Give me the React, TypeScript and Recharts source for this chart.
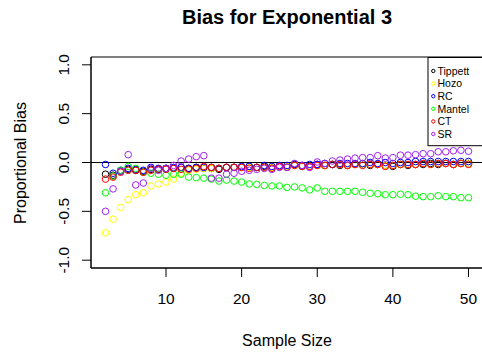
import { ScatterChart, Scatter, XAxis, YAxis, ReferenceLine, ReferenceArea } from 'recharts'

// sample sizes on the x axis
const sizes = [
  2, 3, 4, 5, 6, 7, 8, 9, 10, 11, 12, 13, 14, 15, 16, 17, 18, 19, 20, 21, 22, 23, 24, 25, 26,
  27, 28, 29, 30, 31, 32, 33, 34, 35, 36, 37, 38, 39, 40, 41, 42, 43, 44, 45, 46, 47, 48, 49, 50,
]

const tippett = [
  -0.12, -0.13, -0.09, -0.07, -0.08, -0.09, -0.07, -0.07, -0.06, -0.06, -0.05, -0.06, -0.05, -0.06,
  -0.06, -0.07, -0.05, -0.05, -0.05, -0.04, -0.05, -0.04, -0.05, -0.04, -0.04, -0.02, -0.04, -0.04,
  -0.02, -0.03, -0.02, -0.03, -0.03, -0.02, -0.02, -0.03, -0.02, -0.03, -0.04, -0.02, -0.03, -0.02,
  -0.02, -0.01, -0.02, -0.01, -0.02, -0.01, -0.01,
]
const hozo = [
  -0.72, -0.58, -0.46, -0.38, -0.33, -0.31, -0.24, -0.22, -0.2, -0.17, -0.11, -0.08, -0.07, -0.06,
  -0.06, -0.06, -0.05, -0.05, -0.05, -0.05, -0.05, -0.05, -0.05, -0.04, -0.04, -0.03, -0.04, -0.04,
  -0.03, -0.03, -0.02, -0.02, -0.03, -0.02, -0.02, -0.02, -0.02, -0.03, -0.03, -0.02, -0.02, -0.02,
  -0.01, -0.02, -0.01, -0.01, -0.02, -0.01, -0.01,
]
const rc = [
  -0.02, -0.11, -0.08, -0.06, -0.07, -0.08, -0.05, -0.06, -0.06, -0.05, -0.05, -0.06, -0.05, -0.05,
  -0.05, -0.06, -0.05, -0.05, -0.04, -0.04, -0.05, -0.03, -0.04, -0.03, -0.03, -0.02, -0.03, -0.02,
  -0.02, -0.01, -0.02, -0.01, -0.01, -0.01, -0.01, 0.0, -0.01, 0.0, -0.01, 0.0, 0.0, 0.01, 0.01,
  0.01, 0.01, 0.01, 0.01, 0.01, 0.01,
]
const mantel = [
  -0.31, -0.14, -0.08, -0.04, -0.06, -0.1, -0.11, -0.12, -0.13, -0.12, -0.12, -0.15, -0.155, -0.16,
  -0.17, -0.19, -0.18, -0.19, -0.2, -0.22, -0.225, -0.235, -0.24, -0.24, -0.255, -0.25, -0.26, -0.28,
  -0.26, -0.295, -0.295, -0.295, -0.295, -0.295, -0.305, -0.315, -0.32, -0.33, -0.33, -0.325, -0.33,
  -0.345, -0.35, -0.35, -0.34, -0.35, -0.35, -0.36, -0.36,
]
const ct = [
  -0.17, -0.15, -0.1, -0.08, -0.08, -0.1, -0.08, -0.07, -0.07, -0.06, -0.07, -0.07, -0.06, -0.04,
  -0.05, -0.06, -0.05, -0.05, -0.05, -0.06, -0.05, -0.05, -0.06, -0.04, -0.05, -0.03, -0.04, -0.04,
  -0.03, -0.03, -0.02, -0.02, -0.03, -0.02, -0.03, -0.02, -0.02, -0.04, -0.03, -0.02, -0.02, -0.02,
  -0.01, -0.02, -0.01, -0.01, -0.02, -0.01, -0.02,
]
const sr = [
  -0.5, -0.27, -0.09, 0.08, -0.23, -0.21, -0.06, -0.08, -0.06, -0.03, 0.015, 0.035, 0.06, 0.07,
  -0.16, -0.16, -0.12, -0.11, -0.09, -0.08, -0.07, -0.06, -0.07, -0.05, -0.05, -0.01, -0.03, -0.05,
  0.005, -0.01, 0.015, 0.025, 0.035, 0.045, 0.05, 0.05, 0.07, 0.045, 0.05, 0.075, 0.075, 0.08, 0.09,
  0.09, 0.11, 0.11, 0.12, 0.125, 0.115,
]

const seriesNames = ['Tippett', 'Hozo', 'RC', 'Mantel', 'CT', 'SR']
const seriesValues = [tippett, hozo, rc, mantel, ct, sr]
const COLORS = ['#000000', '#ffff00', '#0000ff', '#00ff00', '#ff0000', '#a020f0']

const xTicks = [10, 20, 30, 40, 50]
const yTicks = [-1, -0.5, 0, 0.5, 1]

const FONT = '"Liberation Sans", Arial, sans-serif'

function ringShape(color: string) {
  return (props: any) => (
    <circle cx={props.cx} cy={props.cy} r={3.3} fill="none" stroke={color} strokeWidth={1} />
  )
}

function YTick({ x, y, payload }: any) {
  const bx = x - 11
  return (
    <text
      x={bx}
      y={y}
      transform={`rotate(-90 ${bx} ${y})`}
      textAnchor="middle"
      fontSize={15.5}
      fontFamily={FONT}
      fill="#000"
    >
      {Number(payload.value).toFixed(1)}
    </text>
  )
}

export default function App() {
  const series = seriesValues.map((vals) => vals.map((v, i) => ({ n: sizes[i], v })))

  return (
    <div
      style={{
        position: 'absolute',
        left: 0,
        top: 0,
        width: 482,
        height: 358,
        overflow: 'hidden',
        background: '#fff',
      }}
    >
      <ScatterChart width={500} height={358} margin={{ top: 57, right: 17, left: 0, bottom: 0 }}>
        <XAxis
          type="number"
          dataKey="n"
          domain={[0.08, 51.92]}
          ticks={xTicks}
          allowDataOverflow
          tickSize={9}
          tickMargin={16}
          height={90}
          stroke="#000"
          tick={{ fill: '#000', fontSize: 15.5, fontFamily: FONT }}
        />
        <YAxis
          type="number"
          dataKey="v"
          domain={[-1.08, 1.08]}
          ticks={yTicks}
          allowDataOverflow
          tickSize={9}
          tickMargin={2}
          width={91}
          stroke="#000"
          tick={<YTick />}
        />
        <ReferenceArea
          x1={0.08}
          x2={51.92}
          y1={-1.08}
          y2={1.08}
          fill="none"
          stroke="#000"
          strokeWidth={1}
          fillOpacity={0}
        />
        {series.map((data, idx) => (
          <Scatter
            key={seriesNames[idx]}
            name={seriesNames[idx]}
            data={data}
            shape={ringShape(COLORS[idx])}
            isAnimationActive={false}
          />
        ))}
        <ReferenceLine y={0} stroke="#000" strokeWidth={1} />
      </ScatterChart>

      {/* titles and legend */}
      <svg
        width={482}
        height={358}
        style={{ position: 'absolute', left: 0, top: 0, pointerEvents: 'none' }}
        fontFamily={FONT}
      >
        <text x={287} y={23.5} textAnchor="middle" fontSize={20} fontWeight="bold" fill="#000">
          Bias for Exponential 3
        </text>
        <text x={287} y={345.5} textAnchor="middle" fontSize={16} fill="#000">
          Sample Size
        </text>
        <text
          x={26}
          y={163}
          transform="rotate(-90 26 163)"
          textAnchor="middle"
          fontSize={16}
          fill="#000"
        >
          Proportional Bias
        </text>
        <rect x={428} y={57.5} width={80} height={88.2} fill="#fff" stroke="#000" strokeWidth={1} />
        {seriesNames.map((name, idx) => (
          <g key={name}>
            <circle cx={433.3} cy={71 + idx * 12.6} r={1.7} fill="none" stroke={COLORS[idx]} />
            <text x={437.5} y={71 + idx * 12.6 + 3.8} fontSize={10.5} fill="#000">
              {name}
            </text>
          </g>
        ))}
      </svg>
    </div>
  )
}
